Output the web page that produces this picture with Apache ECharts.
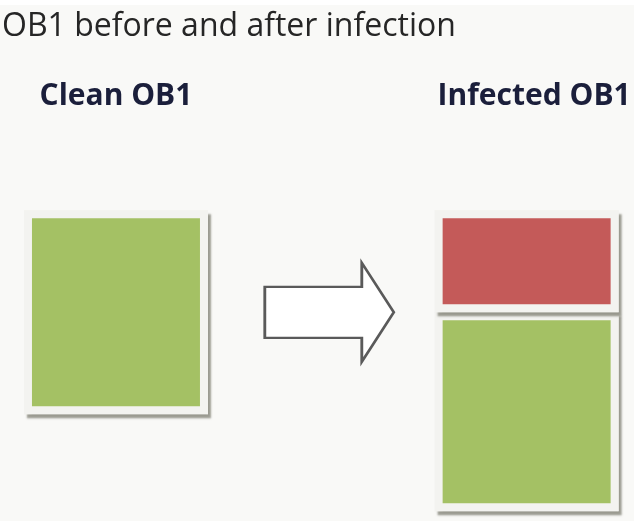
<!DOCTYPE html>
<html>
<head>
<meta charset="utf-8">
<script src="https://cdn.jsdelivr.net/npm/echarts@6/dist/echarts.min.js"></script>
<style>html,body{margin:0;padding:0;background:#f9f9f7}#c{width:634px;height:521px}</style>
</head>
<body>
<div id="c"></div>
<script>
// Data (arbitrary size units)
const categories = ['Clean OB1', '', 'Infected OB1'];
const infectedPart = ['-', '-', 102];  // red block (infection)
const originalPart = [204, '-', 199];  // green block (original OB1)
const arrowPoint = [[1, 102]];         // arrow marker between the two

const chart = echarts.init(document.getElementById('c'));
const frameBase = { borderColor: '#f3f3f0', borderWidth: 8 };
const shadow = { shadowColor: 'rgba(95,95,80,0.6)', shadowBlur: 2, shadowOffsetX: 3, shadowOffsetY: 4 };
function blockSeries(name, data, color, stack, withShadow, z) {
  return {
    name: name, type: 'bar', stack: stack, barWidth: 184, barGap: '-100%', data: data, silent: true, z: z,
    itemStyle: Object.assign({ color: color }, frameBase, withShadow ? shadow : {})
  };
}
chart.setOption({
  backgroundColor: '#f9f9f7',
  animation: false,
  title: {
    text: 'OB1 before and after infection',
    left: 2, top: 11, padding: 0,
    textStyle: { fontFamily: 'Open Sans', fontSize: 32, fontWeight: 'normal', color: '#262626' }
  },
  graphic: [{ type: 'rect', left: 0, top: 0, shape: { width: 634, height: 5 }, style: { fill: '#ffffff' }, silent: true }],
  grid: { left: 13.3, right: 4.7, top: 210.3, height: 300, outerBoundsMode: 'none' },
  xAxis: {
    type: 'category', data: categories, position: 'top',
    axisLine: { show: false, onZero: false }, axisTick: { show: false }, splitLine: { show: false },
    axisLabel: {
      margin: 114, verticalAlign: 'middle', interval: 0,
      formatter: (v, i) => i === 2 ? '{b|' + v + '}' : '{a|' + v + '}',
      rich: {
        a: { fontFamily: 'Open Sans', fontSize: 30, fontWeight: 'bold', color: '#1b1f3b' },
        b: { fontFamily: 'Open Sans', fontSize: 30, fontWeight: 'bold', color: '#1b1f3b', padding: [0, 0, 0, 15] }
      }
    }
  },
  yAxis: { type: 'value', inverse: true, min: 0, max: 300, show: false },
  series: [
    // back layer casts the drop shadow, front layer gives clean fill + frame
    blockSeries('Infection shadow', infectedPart, '#c45a59', 'back', true, 3),
    blockSeries('Original shadow', originalPart, '#a4c164', 'back', true, 1),
    blockSeries('Infection', infectedPart, '#c45a59', 'front', false, 4),
    blockSeries('Original', originalPart, '#a4c164', 'front', false, 2),
    { name: 'Arrow', type: 'scatter', data: arrowPoint, silent: true, z: 5,
      symbol: 'path://M0 24 L97 24 L97 0 L129 49.5 L97 99 L97 75 L0 75 Z',
      symbolSize: [129, 99], symbolOffset: [8, 0],
      itemStyle: { color: '#ffffff', borderColor: '#5a5a5a', borderWidth: 2.5, opacity: 1 } }
  ]
});
</script>
</body>
</html>
